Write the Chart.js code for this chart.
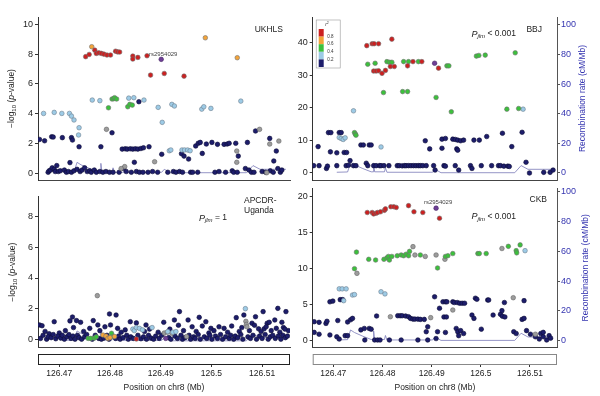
<!DOCTYPE html>
<html>
<head>
<meta charset="utf-8">
<script src="https://cdn.jsdelivr.net/npm/chart.js@4.4.1/dist/chart.umd.min.js"></script>
<style>
  html, body { margin: 0; padding: 0; background: #fff; }
  #wrap { position: relative; width: 600px; height: 396px; overflow: hidden; }
  canvas { position: absolute; }
</style>
</head>
<body>
<div id="wrap">
  <canvas id="ukhls" width="300" height="190" style="left:0;top:0;width:300px;height:190px"></canvas>
  <canvas id="bbj" width="315" height="190" style="left:285px;top:0;width:315px;height:190px"></canvas>
  <canvas id="apcdr" width="300" height="220" style="left:0;top:176px;width:300px;height:220px"></canvas>
  <canvas id="ckb" width="315" height="220" style="left:285px;top:176px;width:315px;height:220px"></canvas>
</div>
<script>
// ---- axis ticks ----
const positionTicks = [126.47, 126.48, 126.49, 126.5, 126.51];
const positionLabels = ['126.47', '126.48', '126.49', '126.5', '126.51'];
const ukhlsTicks = [0, 2, 4, 6, 8, 10];
const bbjTicks = [0, 10, 20, 30, 40];
const apcdrTicks = [0, 2, 4, 6, 8];
const ckbTicks = [0, 5, 10, 15, 20];
const recombTicks = [0, 20, 40, 60, 80, 100];
const r2Labels = ['0.8', '0.6', '0.4', '0.2'];

// ---- recombination rate (cM/Mb) ----
const recombPos = [126.4707, 126.4729, 126.4735, 126.4743, 126.4760, 126.4777, 126.4781, 126.4782, 126.4784, 126.4804, 126.4806, 126.4809, 126.4902, 126.4907, 126.4919, 126.5069, 126.5082, 126.5096, 126.5147];
const recombRate = [0.5, 0.7, 7.2, 5.5, 3.0, 0.8, 0.8, 6.5, 0.8, 0.8, 3.5, 0.5, 0.5, 2.5, 0.2, 0.2, 5.0, 2.5, 2.5];

// ---- UKHLS: [position Mb, -log10 p] ----
const ukhlsLead = [[126.4901, 7.65]];
const ukhlsRed = [[126.4752, 7.83], [126.4759, 7.98], [126.4770, 8.27], [126.4773, 8.05], [126.4778, 8.09], [126.4783, 8.05], [126.4788, 8.0], [126.4794, 7.94], [126.4801, 7.94], [126.4811, 8.2], [126.4815, 8.15], [126.4819, 8.14], [126.4845, 7.87], [126.4845, 7.67], [126.4855, 7.78], [126.4873, 7.89], [126.4880, 6.59], [126.4907, 6.70], [126.4946, 6.52]];
const ukhlsOrange = [[126.4764, 8.5], [126.4988, 9.1], [126.5051, 7.76]];
const ukhlsGreen = [[126.4797, 4.39], [126.4804, 4.98], [126.4807, 5.0], [126.4809, 5.07], [126.4813, 4.98], [126.4835, 4.46], [126.4839, 4.62], [126.4844, 4.57]];
const ukhlsLightBlue = [[126.4669, 4.01], [126.4690, 4.08], [126.4705, 4.01], [126.4720, 4.01], [126.4724, 3.83], [126.4729, 3.57], [126.4739, 3.05], [126.4738, 2.56], [126.4765, 4.91], [126.4780, 4.87], [126.4837, 5.04], [126.4847, 5.07], [126.4867, 4.91], [126.4895, 4.42], [126.4903, 3.41], [126.4922, 4.62], [126.4927, 4.51], [126.4917, 1.5], [126.4920, 1.55], [126.4942, 1.55], [126.4947, 1.55], [126.4953, 1.55], [126.4958, 1.5], [126.4981, 4.3], [126.4985, 4.46], [126.4999, 4.35], [126.5058, 4.84]];
const ukhlsGray = [[126.4793, 2.94], [126.4888, 0.76], [126.5050, 1.48], [126.5050, 0.72], [126.5095, 2.94], [126.5115, 1.95], [126.5133, 2.15], [126.5109, 0.02], [126.4829, 0.43], [126.4822, 0.3]];
const ukhlsNavy = [[126.4661, 2.26], [126.4671, 2.17], [126.4685, 2.44], [126.4688, 2.42], [126.4706, 2.38], [126.4724, 2.38], [126.4726, 2.22], [126.4739, 1.77], [126.4782, 1.77], [126.4804, 2.71],
  [126.4824, 1.61], [126.4830, 1.63], [126.4834, 1.61], [126.4840, 1.63], [126.4845, 1.61], [126.4850, 1.63], [126.4855, 1.61], [126.4861, 1.65], [126.4866, 1.7], [126.4877, 1.77],
  [126.4848, 0.72], [126.4857, 4.8], [126.4902, 1.26], [126.4941, 1.3], [126.4946, 1.14], [126.4955, 0.94], [126.4969, 1.82], [126.4974, 2.0], [126.4978, 2.06], [126.4982, 1.32], [126.4990, 1.95], [126.5001, 2.06], [126.5012, 1.93], [126.5025, 1.93], [126.5031, 1.95], [126.5035, 2.0], [126.5048, 2.0], [126.5053, 1.14], [126.5071, 2.06], [126.5087, 2.83], [126.5115, 2.33], [126.5128, 1.48], [126.5123, 0.81],
  [126.4678, 0.05], [126.4680, 0.15], [126.4683, 0.2], [126.4686, 0.35], [126.4690, 0.25], [126.4692, 0.1], [126.4695, 0.5], [126.4698, 0.1], [126.4702, 0.15], [126.4710, 0.2], [126.4714, 0.05], [126.4718, 0.1], [126.4721, 0.7], [126.4724, 0.05], [126.4729, 0.15], [126.4735, 0.25], [126.4741, 0.1], [126.4745, 0.2], [126.4750, 0.35], [126.4755, 0.1], [126.4760, 0.15], [126.4763, 0.05], [126.4769, 0.2], [126.4773, 0.05], [126.4780, 0.1], [126.4786, 0.05], [126.4792, 0.1], [126.4799, 0.05], [126.4806, 0.05], [126.4818, 0.05], [126.4827, 0.3], [126.4832, 0.1], [126.4842, 0.05], [126.4852, 0.1], [126.4858, 0.05], [126.4865, 0.05], [126.4875, 0.05], [126.4884, 0.1], [126.4894, 0.05], [126.4914, 0.05], [126.4925, 0.1], [126.4930, 0.05], [126.4937, 0.1], [126.4943, 0.05], [126.4959, 0.05], [126.4963, 0.05], [126.4973, 0.05], [126.5007, 0.05], [126.5015, 0.1], [126.5028, 0.05], [126.5041, 0.15], [126.5044, 0.05], [126.5051, 0.05], [126.5067, 0.3], [126.5074, 0.2], [126.5079, 0.05], [126.5084, 0.05], [126.5100, 0.1], [126.5107, 0.05], [126.5116, 0.15], [126.5122, 0.05], [126.5131, 0.3], [126.5136, 0.05], [126.5139, 0.2]];

// ---- BBJ ----
const bbjLead = [[126.4906, 33.7]];
const bbjRed = [[126.4768, 39.1], [126.4779, 39.7], [126.4783, 39.7], [126.4792, 39.7], [126.4819, 41.1], [126.4782, 31.3], [126.4787, 31.3], [126.4792, 31.4], [126.4799, 30.6], [126.4806, 31.5], [126.4816, 32.7], [126.4824, 32.7], [126.4851, 32.9], [126.4862, 34.2], [126.4880, 34.2], [126.4914, 32.2]];
const bbjOrange = [];
const bbjGreen = [[126.4770, 33.4], [126.4785, 33.7], [126.4809, 34.2], [126.4814, 34.0], [126.4819, 34.0], [126.4802, 24.7], [126.4841, 25.0], [126.4851, 25.0], [126.4843, 34.2], [126.4853, 34.2], [126.4873, 34.2], [126.4909, 23.2], [126.4931, 32.9], [126.4935, 32.9], [126.4940, 18.8], [126.4991, 35.9], [126.4996, 36.1], [126.5009, 36.2], [126.5070, 36.9], [126.5053, 19.6], [126.5077, 19.8], [126.4743, 12.4], [126.4745, 11.9], [126.4746, 11.6]];
const bbjLightBlue = [[126.4741, 19.1], [126.4712, 10.9], [126.4716, 10.6], [126.4720, 10.3], [126.4724, 10.8], [126.4797, 8.0], [126.5086, 19.6]];
const bbjGray = [];
const bbjNavy = [[126.4669, 8.1], [126.4690, 12.4], [126.4695, 12.4], [126.4694, 6.5], [126.4707, 6.2], [126.4722, 6.3], [126.4727, 6.3], [126.4712, 12.4], [126.4716, 12.4], [126.4734, 3.8], [126.4756, 8.6], [126.4761, 8.6], [126.4773, 8.6], [126.4777, 8.6], [126.4887, 9.9], [126.4896, 7.4], [126.4921, 10.4], [126.4928, 10.6], [126.4921, 7.6], [126.4943, 10.4], [126.4948, 10.3], [126.4951, 7.4], [126.4953, 7.0], [126.4953, 10.1], [126.4959, 9.9], [126.4965, 10.1], [126.4986, 10.1], [126.4997, 10.1], [126.5012, 11.2], [126.5044, 12.2], [126.5063, 8.1], [126.5084, 12.5], [126.5092, 3.3], [126.5099, 0.0], [126.5128, 0.2], [126.5141, 0.2], [126.5147, 0.9],
  [126.4660, 2.25], [126.4671, 2.25], [126.4686, 1.4], [126.4688, 2.1], [126.4707, 2.25], [126.4726, 2.25], [126.4731, 2.4], [126.4741, 2.25], [126.4746, 2.25], [126.4767, 3.0], [126.4770, 2.25], [126.4782, 2.25], [126.4787, 2.25], [126.4794, 2.25], [126.4797, 2.25], [126.4803, 2.25], [126.4813, 2.25], [126.4830, 2.25], [126.4834, 2.25], [126.4840, 2.2], [126.4845, 2.25], [126.4848, 2.25], [126.4853, 2.25], [126.4858, 2.25], [126.4863, 2.25], [126.4868, 2.25], [126.4873, 2.25], [126.4877, 2.25], [126.4882, 2.25], [126.4889, 2.25], [126.4904, 2.25], [126.4907, 0.9], [126.4925, 2.25], [126.4928, 2.1], [126.4948, 2.25], [126.4955, 0.9], [126.4979, 2.25], [126.4982, 1.4], [126.5001, 2.25], [126.5022, 2.25], [126.5036, 2.25], [126.5040, 2.25], [126.5047, 2.1], [126.5055, 2.1], [126.5058, 2.0]];

// ---- APCDR-Uganda ----
const apcdrLead = [[126.4910, 0.1]];
const apcdrRed = [[126.4852, 0.06]];
const apcdrOrange = [[126.4786, 0.32], [126.4792, 0.25], [126.4796, 0.1], [126.4800, 0.15], [126.4809, 0.22]];
const apcdrGreen = [[126.4757, 0.1], [126.4762, 0.1], [126.4769, 0.12], [126.4773, 0.2], [126.4803, 0.43], [126.4806, 0.22]];
const apcdrLightBlue = [[126.5067, 2.02], [126.4845, 0.7], [126.4848, 0.6], [126.4852, 0.8], [126.4858, 0.75], [126.4864, 0.65], [126.4883, 0.8], [126.4914, 0.54], [126.4924, 0.5], [126.4930, 0.54]];
const apcdrGray = [[126.4775, 2.86], [126.5068, 1.2], [126.5069, 1.0], [126.5070, 0.85], [126.4907, 0.45], [126.4913, 0.5], [126.4922, 0.43], [126.4951, 0.22]];
const apcdrNavy = [[126.4690, 1.18], [126.4661, 0.97], [126.4666, 0.92], [126.4726, 1.48], [126.4721, 1.23], [126.4734, 1.25], [126.4742, 1.14], [126.4767, 1.25], [126.4799, 1.68], [126.4812, 1.61], [126.4801, 0.97], [126.4776, 0.97], [126.4840, 1.18], [126.4852, 1.1], [126.4871, 0.97], [126.4906, 1.14], [126.4927, 1.29], [126.4937, 1.83], [126.4954, 1.29], [126.4976, 1.46], [126.4989, 1.18], [126.4999, 0.75], [126.5025, 0.75], [126.5049, 1.44], [126.5064, 1.61], [126.5080, 1.08], [126.5087, 1.5], [126.5102, 1.83], [126.5110, 1.08], [126.5114, 1.14], [126.5131, 2.04], [126.5147, 1.83], [126.5139, 1.14], [126.5125, 1.29], [126.5093, 0.72], [126.5104, 0.72], [126.5142, 0.8], [126.5152, 0.6],
  [126.4672, 0.55], [126.4680, 0.4], [126.4700, 0.45], [126.4712, 0.6], [126.4728, 0.8], [126.4748, 0.55], [126.4760, 0.75], [126.4780, 0.6], [126.4790, 0.85], [126.4815, 0.75], [126.4822, 0.5], [126.4830, 0.65], [126.4868, 0.55], [126.4878, 0.7], [126.4895, 0.5], [126.4918, 0.7], [126.4935, 0.95], [126.4945, 0.6], [126.4962, 0.85], [126.4970, 0.55], [126.4982, 0.9], [126.4995, 0.45], [126.5005, 0.6], [126.5015, 0.85], [126.5032, 0.5], [126.5040, 0.9], [126.5055, 0.55], [126.5060, 0.8], [126.5075, 0.6], [126.5085, 0.95], [126.5098, 0.55], [126.5108, 0.85], [126.5118, 0.6], [126.5128, 0.75], [126.5135, 0.5], [126.5145, 0.7],
  [126.4663, 0.1], [126.4668, 0.3], [126.4675, 0.05], [126.4678, 0.2], [126.4684, 0.15], [126.4688, 0.35], [126.4693, 0.08], [126.4697, 0.25], [126.4703, 0.12], [126.4706, 0.3], [126.4710, 0.05], [126.4715, 0.2], [126.4719, 0.35], [126.4723, 0.1], [126.4727, 0.25], [126.4731, 0.05], [126.4736, 0.3], [126.4739, 0.15], [126.4744, 0.05], [126.4750, 0.2], [126.4754, 0.35], [126.4765, 0.05], [126.4771, 0.3], [126.4778, 0.1], [126.4783, 0.05], [126.4788, 0.12], [126.4794, 0.3], [126.4798, 0.05], [126.4811, 0.1], [126.4817, 0.25], [126.4820, 0.05], [126.4826, 0.15], [126.4833, 0.3], [126.4836, 0.05], [126.4841, 0.2], [126.4846, 0.1], [126.4855, 0.3], [126.4861, 0.08], [126.4866, 0.2], [126.4872, 0.05], [126.4876, 0.3], [126.4881, 0.12], [126.4886, 0.05], [126.4890, 0.25], [126.4897, 0.1], [126.4902, 0.3], [126.4916, 0.15], [126.4920, 0.05], [126.4928, 0.25], [126.4933, 0.1], [126.4940, 0.3], [126.4943, 0.05], [126.4948, 0.15], [126.4956, 0.3], [126.4959, 0.05], [126.4965, 0.2], [126.4968, 0.1], [126.4974, 0.35], [126.4978, 0.05], [126.4986, 0.2], [126.4991, 0.1], [126.4997, 0.3], [126.5001, 0.05], [126.5008, 0.25], [126.5012, 0.1], [126.5018, 0.35], [126.5022, 0.05], [126.5028, 0.2], [126.5035, 0.1], [126.5038, 0.3], [126.5044, 0.05], [126.5047, 0.25], [126.5052, 0.15], [126.5058, 0.35], [126.5062, 0.05], [126.5072, 0.2], [126.5077, 0.1], [126.5082, 0.3], [126.5089, 0.05], [126.5095, 0.25], [126.5100, 0.1], [126.5106, 0.35], [126.5112, 0.05], [126.5116, 0.2], [126.5121, 0.3], [126.5126, 0.1], [126.5132, 0.25], [126.5137, 0.05], [126.5141, 0.3], [126.5146, 0.15], [126.5150, 0.25]];

// ---- CKB ----
const ckbLead = [[126.4909, 18.4]];
const ckbRed = [[126.4769, 17.8], [126.4779, 17.8], [126.4782, 17.6], [126.4787, 17.7], [126.4790, 17.8], [126.4796, 17.9], [126.4804, 18.1], [126.4806, 18.3], [126.4817, 18.6], [126.4823, 18.6], [126.4828, 18.5], [126.4853, 18.75], [126.4864, 17.9], [126.4882, 17.8], [126.4916, 17.0]];
const ckbOrange = [];
const ckbGreen = [[126.4743, 10.0], [126.4747, 12.3], [126.4772, 11.3], [126.4786, 11.2], [126.4803, 11.3], [126.4809, 11.5], [126.4812, 11.7], [126.4814, 11.2], [126.4819, 11.7], [126.4830, 11.8], [126.4838, 11.9], [126.4843, 11.8], [126.4848, 12.0], [126.4853, 11.8], [126.4855, 12.4], [126.4877, 11.9], [126.4912, 10.1], [126.4928, 11.7], [126.4933, 11.8], [126.4943, 12.1], [126.4994, 12.1], [126.4997, 12.1], [126.5011, 12.1], [126.5056, 13.1], [126.5072, 12.5], [126.5073, 12.2], [126.5080, 13.3]];
const ckbLightBlue = [[126.4712, 7.2], [126.4718, 7.2], [126.4726, 7.2], [126.4721, 5.56], [126.4739, 6.34], [126.4743, 6.4], [126.4797, 6.8], [126.4805, 6.5], [126.5090, 12.5]];
const ckbGray = [[126.4748, 9.35], [126.4862, 13.06], [126.4866, 11.9], [126.4887, 11.7], [126.4909, 11.9], [126.4927, 11.3], [126.4816, 3.33], [126.4898, 3.2], [126.4943, 4.26], [126.5043, 12.8], [126.5066, 5.97], [126.5111, 0.9]];
const ckbNavy = [[126.4661, 2.64], [126.4671, 2.55], [126.4685, 2.4], [126.4687, 2.7], [126.4661, 1.16], [126.4671, 0.9], [126.4693, 5.4], [126.4699, 5.5], [126.4709, 2.8], [126.4714, 5.7], [126.4719, 5.7], [126.4729, 2.6], [126.4735, 2.9], [126.4739, 3.1], [126.4693, 0.8], [126.4707, 0.55], [126.4712, 0.23], [126.4724, 0.7], [126.4729, 0.7], [126.4756, 1.5], [126.4763, 1.7], [126.4773, 1.7], [126.4777, 1.6], [126.4764, 0.1], [126.4784, 0.1], [126.4790, 0.1], [126.4795, 0.1], [126.4814, 0.1], [126.4838, 0.1], [126.4872, 0.1], [126.4892, 0.1],
  [126.4788, 3.43], [126.4831, 3.47], [126.4836, 3.47], [126.4840, 3.47], [126.4847, 3.43], [126.4853, 3.33], [126.4857, 3.1], [126.4862, 3.0], [126.4866, 3.0], [126.4872, 3.0], [126.4877, 2.96], [126.4885, 2.96], [126.4889, 1.25], [126.4892, 1.94], [126.4906, 6.1], [126.4909, 0.3], [126.4912, 1.25], [126.4916, 4.5], [126.4923, 5.4], [126.4928, 5.4], [126.4931, 5.4], [126.4925, 3.3], [126.4930, 3.3], [126.4928, 1.15],
  [126.4943, 5.4], [126.4946, 5.3], [126.4952, 5.3], [126.4957, 5.2], [126.4962, 5.2], [126.4967, 5.2], [126.4950, 1.7], [126.4953, 1.25], [126.4959, 1.4], [126.4965, 1.0], [126.4955, 0.7], [126.4982, 3.56], [126.4989, 5.9], [126.4992, 5.75], [126.4986, 3.1], [126.5001, 1.6], [126.5014, 5.65], [126.5016, 5.65], [126.5025, 3.56], [126.5040, 3.66], [126.5043, 4.17], [126.5044, 3.4], [126.5049, 3.3], [126.5048, 5.3], [126.5067, 1.25], [126.5072, 1.0], [126.5088, 5.56], [126.5084, 2.96], [126.5088, 3.1], [126.5093, 1.4], [126.5101, 0.9], [126.5111, 0.55], [126.5122, 1.0], [126.5127, 1.16], [126.5119, 0.23], [126.5134, 0.1], [126.5127, 0.55], [126.5139, 0.7], [126.5142, 0.35]];

// ---- styles ----
const FONT = "'Liberation Sans', Arial, Helvetica, sans-serif";
const NAVY = '#1d1d6b', NAVY_EDGE = '#0b0b36';
const LIGHTBLUE = '#9dcbe6', LB_EDGE = '#6f7f8e';
const GREEN = '#3cc03c', ORANGE = '#f3a43a', RED = '#cc2020', LEAD = '#6e3f96';
const GRAY = '#9c9c9c', GRAY_EDGE = '#666';
const EDGE = '#707070';
const RECOMB = '#7a7ab8';
const BLUE_TEXT = '#3535b0';
const X_MIN = 126.4658, X_MAX = 126.5155;

Chart.defaults.font.family = FONT;

const f = (size, style) => (style ? style + ' ' : '') + size + 'px ' + FONT;

function pts(arr) { return arr.map(p => ({ x: p[0], y: p[1] })); }

function dots(arr, fill, edge) {
  return { data: pts(arr), xAxisID: 'x', yAxisID: 'y', backgroundColor: fill, borderColor: edge,
           borderWidth: 0.6, pointRadius: 2.3, pointHoverRadius: 2.3 };
}

function recombLine() {
  return { data: recombPos.map((x, i) => ({ x: x, y: recombRate[i] })), xAxisID: 'x', yAxisID: 'yr',
           showLine: true, borderColor: RECOMB, borderWidth: 0.8, pointRadius: 0, pointHoverRadius: 0, fill: false };
}

// mixed font text (italic p, subscripts)
function drawRuns(ctx, runs, x, y, align) {
  let w = 0;
  runs.forEach(r => { ctx.font = r.font; r.w = ctx.measureText(r.t).width; w += r.w; });
  let cx = align === 'right' ? x - w : align === 'center' ? x - w / 2 : x;
  ctx.textBaseline = 'middle';
  ctx.textAlign = 'left';
  runs.forEach(r => { ctx.font = r.font; ctx.fillText(r.t, cx, y + (r.dy || 0)); cx += r.w; });
}

const pTitleRuns = () => [
  { t: '\u2212log', font: f(8.5) }, { t: '10', font: f(6), dy: 2.5 }, { t: ' (', font: f(8.5) },
  { t: 'p', font: f(8.5, 'italic') }, { t: '-value)', font: f(8.5) }
];
const pjlmRuns = rest => [
  { t: 'P', font: f(9, 'italic') }, { t: 'jlm', font: f(6, 'italic'), dy: 2.5 }, { t: rest, font: f(8.5) }
];

function decor(cfg) {
  return {
    id: 'decor',
    afterDraw(chart) {
      const ctx = chart.ctx, a = chart.chartArea;
      ctx.save();
      ctx.fillStyle = '#222';
      if (cfg.leftTitle) {
        ctx.save();
        ctx.translate(cfg.leftTitle, (a.top + a.bottom) / 2);
        ctx.rotate(-Math.PI / 2);
        drawRuns(ctx, pTitleRuns(), 0, 0, 'center');
        ctx.restore();
      }
      if (cfg.rightTitle) {
        ctx.save();
        ctx.fillStyle = BLUE_TEXT;
        ctx.translate(cfg.rightTitle, (a.top + a.bottom) / 2);
        ctx.rotate(-Math.PI / 2);
        drawRuns(ctx, [{ t: 'Recombination rate (cM/Mb)', font: f(8.5) }], 0, 0, 'center');
        ctx.restore();
      }
      (cfg.names || []).forEach(n => {
        drawRuns(ctx, [{ t: n.t, font: f(8.5) }], a.right + n.dx, a.top + n.dy, n.align);
      });
      if (cfg.pjlm) {
        drawRuns(ctx, pjlmRuns(cfg.pjlm.t), a.right + cfg.pjlm.dx, a.top + cfg.pjlm.dy, 'right');
      }
      if (cfg.lead) {
        const lx = chart.scales.x.getPixelForValue(cfg.lead[0]) + 2;
        const ly = chart.scales.y.getPixelForValue(cfg.lead[1]) - 5.5;
        ctx.fillStyle = '#444';
        drawRuns(ctx, [{ t: 'rs2954029', font: f(6) }], lx, ly, 'center');
      }
      if (cfg.geneBox) {
        const g = chart.scales.xgene;
        ctx.strokeStyle = cfg.geneBox;
        ctx.lineWidth = 1;
        ctx.strokeRect(a.left + 0.5, Math.round(g.top + 6.3) + 0.5, a.right - a.left - 1, 10);
      }
      if (cfg.legend) {
        const x0 = a.left + 3.5, y0 = a.top + 3, segH = 7.6, barTop = y0 + 9;
        ctx.fillStyle = '#fff';
        ctx.fillRect(x0, y0, 24, 48);
        ctx.strokeStyle = '#999';
        ctx.lineWidth = 0.6;
        ctx.strokeRect(x0, y0, 24, 48);
        [RED, ORANGE, GREEN, LIGHTBLUE, NAVY].forEach((c, i) => {
          ctx.fillStyle = c;
          ctx.fillRect(x0 + 2.5, barTop + i * segH, 5, segH);
        });
        ctx.fillStyle = '#333';
        r2Labels.forEach((t, i) => drawRuns(ctx, [{ t: t, font: f(4.5) }], x0 + 11, barTop + (i + 1) * segH, 'left'));
        drawRuns(ctx, [{ t: 'r', font: f(5, 'italic') }, { t: '2', font: f(3.5), dy: -1.5 }], x0 + 9, y0 + 4.5, 'left');
      }
      ctx.restore();
    }
  };
}

function buildPanel(canvasId, p) {
  const tickFont = { family: FONT, size: 9 };
  const datasets = [
    dots(p.lead, LEAD, '#4a2a66'),
    dots(p.red, RED, EDGE),
    dots(p.orange, ORANGE, EDGE),
    dots(p.green, GREEN, EDGE),
    dots(p.lightBlue, LIGHTBLUE, LB_EDGE),
    dots(p.gray, GRAY, GRAY_EDGE),
    dots(p.navy, NAVY, NAVY_EDGE),
    recombLine()
  ];
  const scales = {
    x: {
      type: 'linear', position: 'bottom', weight: 5, min: X_MIN, max: X_MAX,
      afterBuildTicks: s => { s.ticks = positionTicks.map(v => ({ value: v })); },
      ticks: { display: p.bottom, font: { family: FONT, size: 8.5 }, color: '#222', padding: 2, maxRotation: 0, autoSkip: false,
               callback: (v, i) => positionLabels[i] },
      grid: { display: p.bottom, drawOnChartArea: false, drawTicks: true, tickLength: 3, color: '#333' },
      border: { display: !p.bottom, color: '#444' },
      title: { display: p.bottom, text: 'Position on chr8 (Mb)', color: '#222', font: { family: FONT, size: 8.5 }, padding: { top: 0, bottom: 0 } },
      afterFit: s => { s.height = p.bottom ? 28.5 : 0; }
    },
    y: {
      type: 'linear', position: 'left', min: p.yMin, max: p.yMax,
      afterBuildTicks: s => { s.ticks = p.yTicks.map(v => ({ value: v })); },
      afterFit: s => { s.width = p.yWidth; },
      ticks: { font: tickFont, color: '#222', padding: 2 },
      grid: { drawOnChartArea: false, drawTicks: true, tickLength: 3, color: '#333' },
      border: { display: true, color: '#333' }
    },
    yr: {
      type: 'linear', position: 'right', display: p.right, min: p.recMin, max: p.recMax,
      afterBuildTicks: s => { s.ticks = recombTicks.map(v => ({ value: v })); },
      afterFit: s => { s.width = p.right ? 43 : 0; },
      ticks: { font: tickFont, color: BLUE_TEXT, padding: 1 },
      grid: { drawOnChartArea: false, drawTicks: true, tickLength: 3, color: '#555' },
      border: { display: true, color: '#555' }
    }
  };
  if (p.bottom) {
    scales.xgene = {
      type: 'linear', position: 'bottom', weight: 0, min: X_MIN, max: X_MAX,
      ticks: { display: false }, grid: { display: false },
      border: { display: true, color: '#444' },
      afterFit: s => { s.height = 16.3; }
    };
  }
  return new Chart(document.getElementById(canvasId), {
    type: 'scatter',
    data: { datasets: datasets },
    options: {
      responsive: false,
      animation: false,
      events: [],
      layout: { padding: p.padding },
      plugins: { legend: { display: false }, tooltip: { enabled: false } },
      scales: scales
    },
    plugins: [decor(p.decor)]
  });
}

buildPanel('ukhls', {
  lead: ukhlsLead, red: ukhlsRed, orange: ukhlsOrange, green: ukhlsGreen, lightBlue: ukhlsLightBlue, gray: ukhlsGray, navy: ukhlsNavy,
  yTicks: ukhlsTicks, yMin: -0.47, yMax: 10.5, yWidth: 38, right: false, recMin: -4.73, recMax: 105.4, bottom: false,
  padding: { top: 17, bottom: 10, left: 0, right: 10 },
  decor: { leftTitle: 12, names: [{ t: 'UKHLS', dx: -7, dy: 13, align: 'right' }], lead: ukhlsLead[0] }
});

buildPanel('bbj', {
  lead: bbjLead, red: bbjRed, orange: bbjOrange, green: bbjGreen, lightBlue: bbjLightBlue, gray: bbjGray, navy: bbjNavy,
  yTicks: bbjTicks, yMin: -2.15, yMax: 47.9, yWidth: 27.7, right: true, recMin: -4.73, recMax: 105.4, bottom: false,
  padding: { top: 17, bottom: 10, left: 0, right: 0 },
  decor: { rightTitle: 298, names: [{ t: 'BBJ', dx: -15, dy: 13, align: 'right' }], pjlm: { t: ' < 0.001', dx: -41, dy: 17 }, legend: true }
});

buildPanel('apcdr', {
  lead: apcdrLead, red: apcdrRed, orange: apcdrOrange, green: apcdrGreen, lightBlue: apcdrLightBlue, gray: apcdrGray, navy: apcdrNavy,
  yTicks: apcdrTicks, yMin: -0.5, yMax: 9.25, yWidth: 38, right: false, recMin: -4.7, recMax: 102.5, bottom: true,
  padding: { top: 20.7, bottom: 3.5, left: 0, right: 10 },
  decor: { leftTitle: 13, names: [{ t: 'APCDR-', dx: -46, dy: 3.5, align: 'left' }, { t: 'Uganda', dx: -46, dy: 13.5, align: 'left' }],
           pjlm: { t: ' = 1', dx: -63, dy: 21.3 }, geneBox: '#222' }
});

buildPanel('ckb', {
  lead: ckbLead, red: ckbRed, orange: ckbOrange, green: ckbGreen, lightBlue: ckbLightBlue, gray: ckbGray, navy: ckbNavy,
  yTicks: ckbTicks, yMin: -0.97, yMax: 21.2, yWidth: 27.7, right: true, recMin: -4.7, recMax: 102.5, bottom: true,
  padding: { top: 12, bottom: 3.5, left: 0, right: 0 },
  decor: { rightTitle: 301, names: [{ t: 'CKB', dx: -10, dy: 12, align: 'right' }], pjlm: { t: ' < 0.001', dx: -41, dy: 28.7 },
           lead: ckbLead[0], geneBox: '#888' }
});
</script>
</body>
</html>
